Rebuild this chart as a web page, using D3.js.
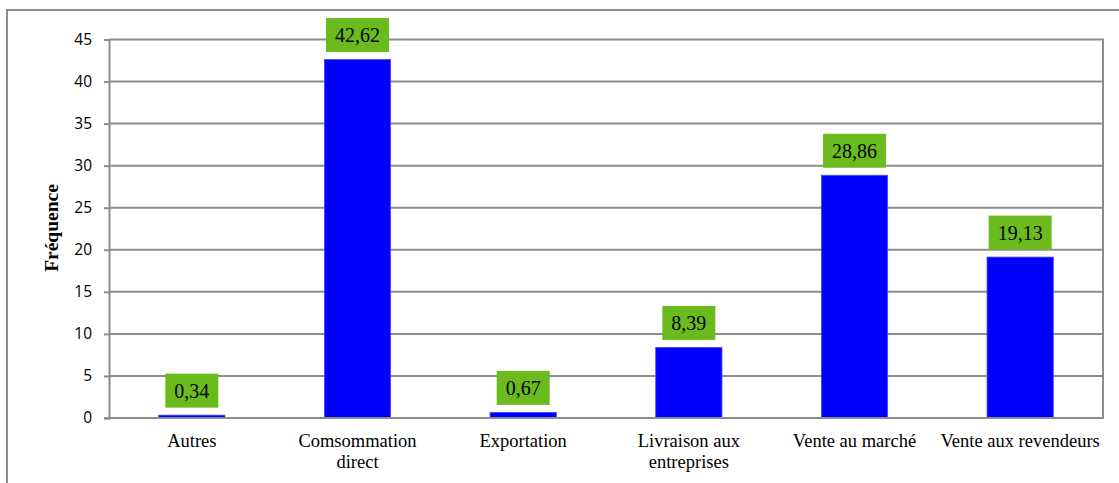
<!DOCTYPE html>
<html>
<head>
<meta charset="utf-8">
<script src="https://cdn.jsdelivr.net/npm/d3@7"></script>
<style>
  html, body { margin: 0; padding: 0; background: #fff; }
  svg { display: block; }
  .serif { font-family: "Times New Roman", "Liberation Serif", serif; }
</style>
</head>
<body>
<svg id="chart" width="1119" height="483"></svg>
<script>
// Destination des ventes (fréquence, %)
const categories = [
  "Autres",
  "Comsommation\ndirect",
  "Exportation",
  "Livraison aux\nentreprises",
  "Vente au marché",
  "Vente aux revendeurs"
];
const values = [0.34, 42.62, 0.67, 8.39, 28.86, 19.13];
const valueLabels = ["0,34", "42,62", "0,67", "8,39", "28,86", "19,13"];
const yTicks = [0, 5, 10, 15, 20, 25, 30, 35, 40, 45];
const yTitle = "Fréquence";

const svg = d3.select("#chart");
const grid = "#8c8c8c";

// Outer chart frame
svg.append("rect")
  .attr("x", 7).attr("y", 10)
  .attr("width", 1130).attr("height", 500)
  .attr("fill", "none").attr("stroke", grid).attr("stroke-width", 2);

const plotLeft = 109, plotRight = 1103, plotTop = 39.5, plotBottom = 418;

const x = d3.scaleBand()
  .domain(categories)
  .range([plotLeft, plotRight])
  .paddingInner(0.6)
  .paddingOuter(0.3);

const y = d3.scaleLinear()
  .domain([0, 45])
  .range([plotBottom, plotTop]);

// Horizontal gridlines
svg.append("g")
  .selectAll("line")
  .data(yTicks)
  .join("line")
  .attr("x1", plotLeft).attr("x2", plotRight)
  .attr("y1", d => y(d)).attr("y2", d => y(d))
  .attr("stroke", grid).attr("stroke-width", 2);

// Right border of the plot area
svg.append("line")
  .attr("x1", plotRight).attr("x2", plotRight)
  .attr("y1", y(45) - 1).attr("y2", y(0) + 1)
  .attr("stroke", grid).attr("stroke-width", 2);

// Y axis
const yAxis = svg.append("g")
  .attr("transform", `translate(${plotLeft},0)`)
  .call(d3.axisLeft(y).tickValues(yTicks).tickSize(5).tickPadding(12));
yAxis.select(".domain").attr("stroke", grid).attr("stroke-width", 2);
yAxis.selectAll(".tick line").attr("stroke", grid).attr("stroke-width", 2);
yAxis.selectAll(".tick text")
  .attr("fill", "#000")
  .style("font-family", "'Open Sans', sans-serif")
  .style("font-size", "15.5px");

// Bars
svg.append("g")
  .selectAll("rect")
  .data(values)
  .join("rect")
  .attr("x", (d, i) => x(categories[i]))
  .attr("y", d => y(d))
  .attr("width", x.bandwidth())
  .attr("height", d => y(0) - y(d))
  .attr("fill", "#0000ff")
  .attr("stroke", "#4a4aff")
  .attr("stroke-width", 0.8);

// Baseline on top of the bars
svg.append("line")
  .attr("x1", plotLeft - 5).attr("x2", plotRight + 1)
  .attr("y1", y(0)).attr("y2", y(0))
  .attr("stroke", grid).attr("stroke-width", 2);

// Value labels on a green box above each bar
const lab = svg.append("g")
  .selectAll("g")
  .data(values)
  .join("g");

lab.each(function (d, i) {
  const g = d3.select(this);
  const cx = x(categories[i]) + x.bandwidth() / 2;
  const t = g.append("text")
    .attr("class", "serif")
    .attr("x", cx)
    .attr("y", y(d) - 7.5 - 17 + 7)
    .attr("text-anchor", "middle")
    .attr("font-size", 20)
    .attr("fill", "#000")
    .text(valueLabels[i]);
  const w = t.node().getComputedTextLength() + 18;
  g.insert("rect", "text")
    .attr("x", cx - w / 2)
    .attr("y", y(d) - 7.5 - 34)
    .attr("width", w)
    .attr("height", 34)
    .attr("fill", "#6cbb1e");
});

// Category labels
const cat = svg.append("g")
  .selectAll("text")
  .data(categories)
  .join("text")
  .attr("class", "serif")
  .attr("x", d => x(d) + x.bandwidth() / 2)
  .attr("y", 447)
  .attr("text-anchor", "middle")
  .attr("font-size", 18.5)
  .attr("fill", "#000");
cat.each(function (d) {
  const lines = d.split("\n");
  d3.select(this).selectAll("tspan")
    .data(lines)
    .join("tspan")
    .attr("x", x(d) + x.bandwidth() / 2)
    .attr("dy", (l, k) => k === 0 ? 0 : 21)
    .text(l => l);
});

// Y axis title
svg.append("text")
  .attr("class", "serif")
  .attr("transform", "translate(58,228) rotate(-90)")
  .attr("text-anchor", "middle")
  .attr("font-size", 19.5)
  .attr("font-weight", "bold")
  .attr("fill", "#000")
  .text(yTitle);
</script>
</body>
</html>
